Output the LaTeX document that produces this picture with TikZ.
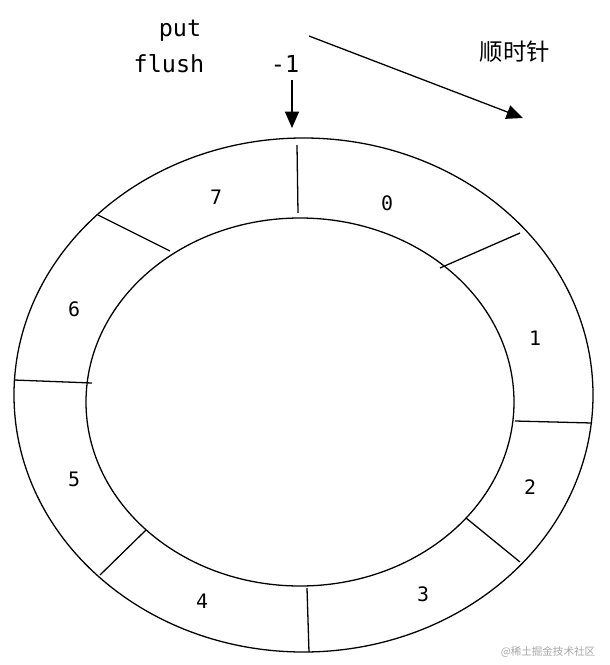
\documentclass[tikz,border=0pt]{standalone}
\usepackage{fontspec}
\usetikzlibrary{arrows.meta}
\setmonofont{DejaVu Sans Mono}
\newfontfamily\cjk{Noto Sans CJK SC}
\begin{document}
\begin{tikzpicture}[x=0.03cm,y=-0.03cm,
  lbl/.style={font=\ttfamily\fontsize{17}{19}\selectfont,inner sep=0pt},
  top/.style={font=\ttfamily\fontsize{20}{22}\selectfont,inner sep=0pt},
  ring/.style={line width=1.1pt},
  arr/.style={line width=1.1pt,-{Triangle[length=14pt,width=12pt]}}]
\useasboundingbox (0,0) rectangle (610,665);
\draw[ring] (303.5,395) ellipse [x radius=289.5,y radius=257];
\draw[ring] (300,402) ellipse [x radius=214,y radius=184];
\foreach \a/\b/\c/\d in {297/145/298/213, 520/233/440/268, 515/421/592/423, 466/518/520/562, 307/588/309/652, 146/530/100/575, 92/383/14/380, 170/251/98/215}
  \draw[ring] (\a,\b) -- (\c,\d);
\node[lbl] (n7) at (216,197) {7};
\node[lbl] (n0) at (387,203) {0};
\node[lbl] (n1) at (535,338) {1};
\node[lbl] (n2) at (530,487) {2};
\node[lbl] (n3) at (423,594) {3};
\node[lbl] (n4) at (202,601) {4};
\node[lbl] (n5) at (74,479) {5};
\node[lbl] (n6) at (74,309) {6};
\node[top] (put) at (180,31) {put};
\node[top] (flush) at (169,64) {flush};
\node[top] (m1) at (285,64) {-1};
\coordinate (a1) at (292,80); \coordinate (a2) at (292,128);
\draw[arr] (a1) -- (a2);
\coordinate (b1) at (309,36); \coordinate (b2) at (523,118);
\draw[arr] (b1) -- (b2);
\node[font=\cjk\fontsize{20}{22}\selectfont,inner sep=0pt] (cw) at (515,52) {顺时针};
\node[font=\cjk\fontsize{9}{10}\selectfont,text=gray!70,inner sep=0pt] (wm) at (548,652) {@稀土掘金技术社区};
\end{tikzpicture}
\end{document}
